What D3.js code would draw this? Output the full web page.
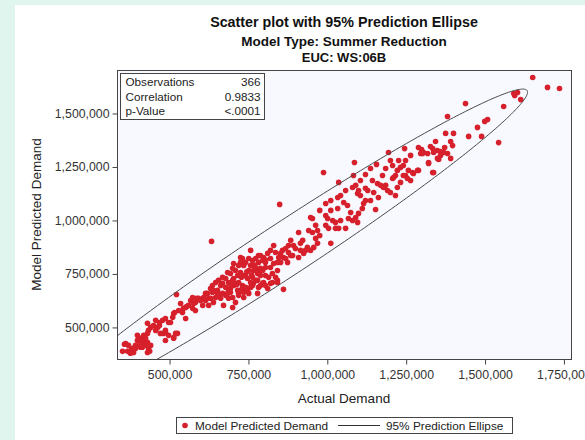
<!DOCTYPE html>
<html>
<head>
<meta charset="utf-8">
<script src="https://cdn.jsdelivr.net/npm/d3@7"></script>
<style>
  html, body { margin: 0; padding: 0; background: #ffffff; }
  svg { display: block; font-family: "Liberation Sans", Arial, Helvetica, sans-serif; }
</style>
</head>
<body>
<svg id="chart" width="585" height="440"></svg>
<script>
// Demand values in thousands
const actualDemand = [
  361,367,380,392,398,402,408,414,418,424,
  430,418,408,433,437,430,440,449,462,468,
  433,481,487,487,497,510,513,519,513,522,
  535,541,551,560,573,573,582,592,605,614,
  624,630,639,652,662,671,678,687,693,700,
  709,719,731,735,747,757,766,779,788,798,
  811,820,842,861,383,392,408,414,430,440,
  430,487,497,513,525,386,376,351,357,370,
  398,418,430,456,468,478,487,503,516,529,
  544,554,567,576,586,471,456,633,849,988,
  1086,1156,1194,1036,1083,1121,1200,1207,1175,1159,
  1169,1178,1191,1210,1232,1241,1248,1257,1264,1273,
  1289,1296,1305,1321,1337,1349,1359,1222,1232,1216,
  1200,1080,1096,1099,1105,1121,1128,1121,1115,1153,
  1033,1011,995,1052,1064,1033,1011,995,1001,1017,
  1026,1042,947,953,941,953,969,995,1004,1026,
  1036,1067,1080,1090,1099,1096,963,969,957,937,
  922,915,931,947,1011,884,893,877,868,858,
  852,846,861,836,830,820,811,798,788,795,
  782,773,763,757,766,751,731,725,735,751,
  766,788,804,820,830,842,826,836,842,650,
  804,788,779,763,773,757,747,735,725,716,
  700,693,703,719,731,703,687,678,668,655,
  646,636,662,678,693,716,735,652,636,620,
  668,684,646,624,608,700,719,741,795,826,
  719,703,757,725,890,909,925,1651,1698,1736,
  1591,1603,1594,1613,1559,1438,1381,1375,1400,1476,
  1499,1508,1448,1489,1543,1245,1343,1391,1397,1289,
  1299,1327,1334,1302,1318,1337,1349,1359,1372,1369,
  1381,1391,1353,1321,1286,1270,1334,1222,1241,1216,
  1207,1254,741,709,687,655,639,779,814,795,
  773,741,709,684,668,630,614,598,725,751,
  763,782,804,852,868,877,899,915,842,820,
  804,782,976,1058,1074,1111,1137,1147,1162,1185,
  1143,1105,1058,1042,700,712,690,745,760,728,
  770,785,805,1264,1248,1226,1185,1137,1090,976,
  963,909,884,874,582,551
];
const predictedDemand = [
  425,388,397,402,439,449,430,453,439,449,
  430,416,407,402,388,519,500,509,500,509,
  486,472,486,439,523,547,565,472,449,654,
  612,570,593,603,640,589,617,636,603,626,
  603,636,617,659,636,603,650,636,664,593,
  617,659,682,640,673,687,706,659,696,710,
  682,706,710,678,402,416,416,407,416,416,
  383,477,463,453,472,383,379,388,421,416,
  463,463,472,533,523,533,542,523,570,579,
  589,598,626,612,636,472,486,902,1075,1224,
  1271,1262,1318,1178,1210,1215,1280,1257,1210,1173,
  1164,1154,1140,1201,1248,1257,1210,1234,1187,1220,
  1234,1313,1318,1266,1224,1290,1304,1154,1178,1117,
  1131,1154,1126,1140,1117,1150,1140,1093,1079,1051,
  1107,1093,1079,1084,1070,1056,1047,1023,1009,1000,
  991,1000,1014,1009,953,944,953,977,963,963,
  963,1009,1000,1014,1033,991,916,893,874,874,
  907,893,860,860,893,907,883,883,869,860,
  846,827,827,850,883,860,846,827,836,813,
  804,822,813,790,790,822,822,804,790,766,
  766,776,780,780,799,766,752,734,720,665,
  743,743,752,734,720,710,729,743,757,743,
  776,752,729,710,696,696,710,729,734,720,
  710,696,696,687,682,673,664,673,664,659,
  659,659,640,636,640,640,650,687,706,710,
  790,799,860,827,836,827,846,1668,1622,1617,
  1593,1598,1584,1565,1533,1547,1486,1407,1407,1435,
  1463,1472,1393,1393,1364,1336,1369,1369,1350,1341,
  1332,1346,1336,1313,1313,1318,1327,1322,1341,1318,
  1313,1290,1285,1271,1234,1224,1224,1234,1210,1210,
  1196,1196,743,706,673,650,673,720,734,766,
  776,804,766,757,706,682,659,626,673,659,
  696,687,696,804,822,850,869,860,804,822,
  804,836,930,963,1037,1056,1093,1131,1107,1164,
  1187,1187,1140,1117,720,700,705,760,745,735,
  790,760,815,1304,1280,1280,1243,1243,1164,1047,
  977,944,836,804,579,542
];

const xTicks = [500, 750, 1000, 1250, 1500, 1750];
const yTicks = [500, 750, 1000, 1250, 1500];
const xDomain = [335, 1774];
const yDomain = [350, 1701];

const titleLines = [
  "Scatter plot with 95% Prediction Ellipse",
  "Model Type: Summer Reduction",
  "EUC: WS:06B"
];
const statLabels = ["Observations", "Correlation", "p-Value"];
const statValues = ["366", "0.9833", "<.0001"];
const legendLabels = ["Model Predicted Demand", "95% Prediction Ellipse"];
const xTitle = "Actual Demand";
const yTitle = "Model Predicted Demand";

// Upper 95% point of F(2, n-2)
const fCrit95 = 3.0207;

const W = 585, H = 440;
const plot = { left: 117, top: 70, right: 571, bottom: 359 };
const dotColor = "#d6202b";
const ink = "#222";

const svg = d3.select("#chart");

// page background and panel
svg.append("rect").attr("width", W).attr("height", H).attr("fill", "#dff5ee");
svg.append("rect").attr("x", 15).attr("y", 5).attr("width", W - 15).attr("height", H - 5).attr("fill", "#ffffff");

const x = d3.scaleLinear().domain(xDomain).range([plot.left, plot.right]);
const y = d3.scaleLinear().domain(yDomain).range([plot.bottom, plot.top]);

// plot wall
svg.append("rect")
  .attr("x", plot.left + 0.5).attr("y", plot.top + 0.5)
  .attr("width", plot.right - plot.left).attr("height", plot.bottom - plot.top)
  .attr("fill", "#f8f8ff");

svg.append("clipPath").attr("id", "plotClip")
  .append("rect")
  .attr("x", plot.left + 1).attr("y", plot.top + 1)
  .attr("width", plot.right - plot.left - 1).attr("height", plot.bottom - plot.top - 1);

const fmt = d => d3.format(",")(d * 1000);

// axes
const xAxis = svg.append("g")
  .attr("transform", `translate(0.5,${plot.bottom + 0.5})`)
  .call(d3.axisBottom(x).tickValues(xTicks).tickSize(5).tickPadding(6).tickFormat(fmt));
const yAxis = svg.append("g")
  .attr("transform", `translate(${plot.left + 0.5},0.5)`)
  .call(d3.axisLeft(y).tickValues(yTicks).tickSize(5).tickPadding(3).tickFormat(fmt));
[xAxis, yAxis].forEach(g => {
  g.select(".domain").remove();
  g.selectAll(".tick line").attr("stroke", "#444");
  g.selectAll(".tick text").attr("fill", "#333")
    .style("font-family", "'Liberation Sans', Arial, sans-serif").style("font-size", "12.3px");
});

// data points
const pts = actualDemand.map((a, i) => [a, predictedDemand[i]]);
const layer = svg.append("g").attr("clip-path", "url(#plotClip)");
layer.selectAll("circle").data(pts).enter().append("circle")
  .attr("cx", d => x(d[0]) + 0.5)
  .attr("cy", d => y(d[1]) + 0.5)
  .attr("r", 2.8)
  .attr("fill", dotColor);

// 95% prediction ellipse from the sample mean and covariance
const n = pts.length;
const mx = d3.mean(pts, d => d[0]);
const my = d3.mean(pts, d => d[1]);
let sxx = 0, syy = 0, sxy = 0;
pts.forEach(([a, b]) => { sxx += (a - mx) ** 2; syy += (b - my) ** 2; sxy += (a - mx) * (b - my); });
sxx /= n - 1; syy /= n - 1; sxy /= n - 1;
const c = Math.sqrt(2 * (n - 1) * (n + 1) / (n * (n - 2)) * fCrit95);
const l11 = Math.sqrt(sxx), l21 = sxy / l11, l22 = Math.sqrt(syy - l21 * l21);
const ellipsePts = d3.range(0, 361, 1).map(deg => {
  const t = deg * Math.PI / 180;
  return [mx + c * l11 * Math.cos(t), my + c * (l21 * Math.cos(t) + l22 * Math.sin(t))];
});
layer.append("path")
  .datum(ellipsePts)
  .attr("fill", "none")
  .attr("stroke", "#4a4a4a")
  .attr("stroke-width", 1)
  .attr("d", d3.line().x(d => x(d[0]) + 0.5).y(d => y(d[1]) + 0.5).curve(d3.curveLinearClosed));

// plot frame
svg.append("rect")
  .attr("x", plot.left + 0.5).attr("y", plot.top + 0.5)
  .attr("width", plot.right - plot.left).attr("height", plot.bottom - plot.top)
  .attr("fill", "none").attr("stroke", "#444").attr("stroke-width", 1);

// statistics inset
const sb = { x: 120.5, y: 73.5, w: 144, h: 46 };
svg.append("rect").attr("x", sb.x).attr("y", sb.y).attr("width", sb.w).attr("height", sb.h)
  .attr("fill", "#ffffff").attr("stroke", "#444");
statLabels.forEach((lab, i) => {
  svg.append("text").attr("x", sb.x + 5).attr("y", sb.y + 12.5 + i * 14.5)
    .attr("font-size", 11.7).attr("fill", ink).text(lab);
  svg.append("text").attr("x", sb.x + sb.w - 4).attr("y", sb.y + 12.5 + i * 14.5)
    .attr("font-size", 11.7).attr("fill", ink).attr("text-anchor", "end").text(statValues[i]);
});

// titles
const titleSizes = [14.3, 13.5, 13];
const titleY = [27, 46, 62];
titleLines.forEach((t, i) => {
  svg.append("text").attr("x", (plot.left + plot.right) / 2).attr("y", titleY[i])
    .attr("text-anchor", "middle").attr("font-weight", "bold")
    .attr("font-size", titleSizes[i]).attr("fill", "#111").text(t);
});

// axis titles
svg.append("text").attr("x", (plot.left + plot.right) / 2).attr("y", 403)
  .attr("text-anchor", "middle").attr("font-size", 13.5).attr("fill", ink).text(xTitle);
svg.append("text").attr("transform", `translate(41,${(plot.top + plot.bottom) / 2}) rotate(-90)`)
  .attr("text-anchor", "middle").attr("font-size", 13.5).attr("fill", ink).text(yTitle);

// legend
const lg = svg.append("g");
lg.append("rect").attr("x", 176.5).attr("y", 417.5).attr("width", 336).attr("height", 16)
  .attr("fill", "#ffffff").attr("stroke", "#444");
lg.append("circle").attr("cx", 185).attr("cy", 425.5).attr("r", 2.8).attr("fill", dotColor);
lg.append("text").attr("x", 195).attr("y", 430).attr("font-size", 11.8).attr("fill", ink).text(legendLabels[0]);
lg.append("line").attr("x1", 338).attr("x2", 380).attr("y1", 425.5).attr("y2", 425.5)
  .attr("stroke", "#333").attr("stroke-width", 1);
lg.append("text").attr("x", 386).attr("y", 430).attr("font-size", 11.8).attr("fill", ink).text(legendLabels[1]);
</script>
</body>
</html>
